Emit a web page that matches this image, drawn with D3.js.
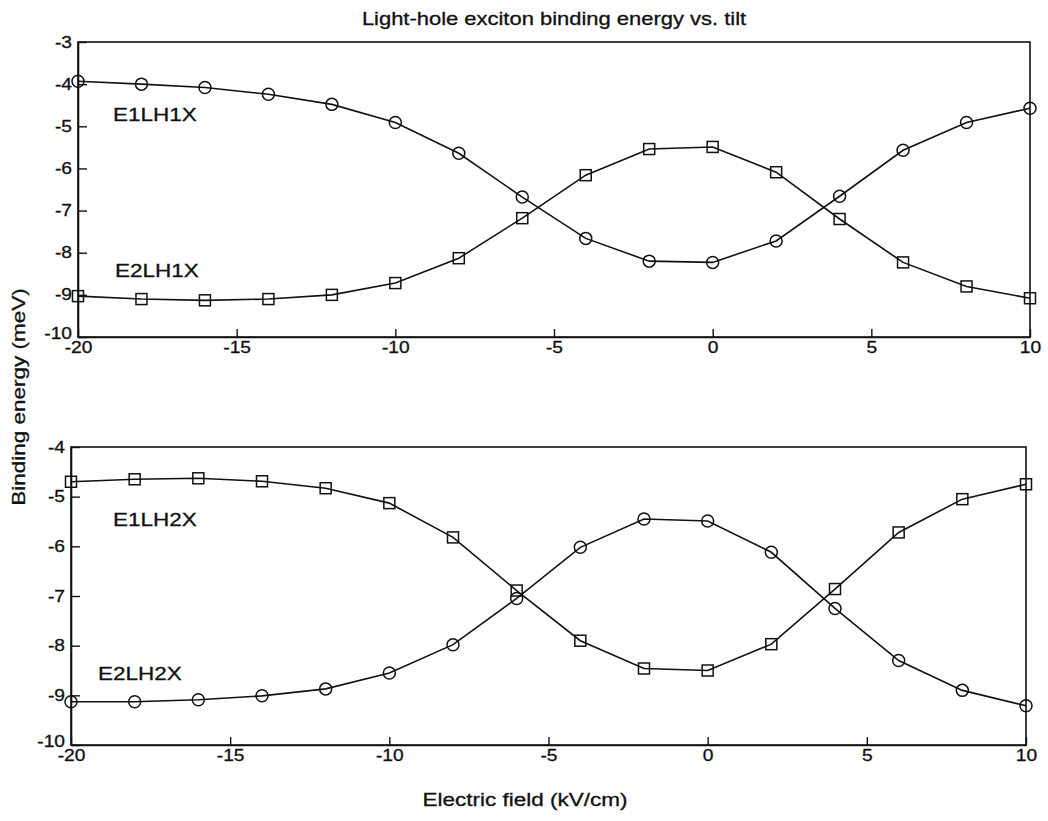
<!DOCTYPE html>
<html>
<head>
<meta charset="utf-8">
<script src="https://cdn.jsdelivr.net/npm/d3@7/dist/d3.min.js"></script>
<style>
  body { margin: 0; background: #fff; }
  text { font-family: "Liberation Sans", Arial, Helvetica, sans-serif; fill: #111; }
</style>
</head>
<body>
<div id="chart"></div>
<script>
// Electric field values (kV/cm), shared by every series
var field = [-20, -18, -16, -14, -12, -10, -8, -6, -4, -2, 0, 2, 4, 6, 8, 10];

// Top panel: light-hole 1
var e1lh1x = [-3.93, -4.00, -4.08, -4.24, -4.48, -4.91, -5.64, -6.68, -7.66, -8.20, -8.23, -7.72, -6.66, -5.57, -4.91, -4.57];
var e2lh1x = [-9.03, -9.10, -9.13, -9.10, -9.00, -8.72, -8.13, -7.18, -6.16, -5.54, -5.49, -6.09, -7.20, -8.23, -8.80, -9.08];

// Bottom panel: light-hole 2
var e1lh2x = [-4.70, -4.65, -4.63, -4.69, -4.83, -5.13, -5.82, -6.89, -7.90, -8.46, -8.50, -7.97, -6.86, -5.72, -5.05, -4.75];
var e2lh2x = [-9.13, -9.13, -9.09, -9.01, -8.87, -8.55, -7.98, -7.05, -6.02, -5.45, -5.49, -6.12, -7.25, -8.30, -8.90, -9.21];

// Tick values
var xTicks = [-20, -15, -10, -5, 0, 5, 10];
var yTicksTop = [-10, -9, -8, -7, -6, -5, -4, -3];
var yTicksBottom = [-10, -9, -8, -7, -6, -5, -4];

var width = 1048, height = 821;
var stretch = 1.2; // the scanned lettering is wide

var svg = d3.select("#chart")
  .append("svg")
  .attr("width", width)
  .attr("height", height);

var panels = [
  {box: {left: 78, right: 1030, top: 42, bottom: 337}, yDomain: [-10, -3], yTicks: yTicksTop,
   series: [{values: e1lh1x, marker: "circle"}, {values: e2lh1x, marker: "square"}],
   labels: [{text: "E1LH1X", x: 113, y: 121}, {text: "E2LH1X", x: 115, y: 277}]},
  {box: {left: 71, right: 1026, top: 447, bottom: 745}, yDomain: [-10, -4], yTicks: yTicksBottom,
   series: [{values: e1lh2x, marker: "square"}, {values: e2lh2x, marker: "circle"}],
   labels: [{text: "E1LH2X", x: 113, y: 526}, {text: "E2LH2X", x: 98, y: 680}]}
];

// plain hyphen minus, no decimals, like the original
var plain = function(d) { return String(d); };

function wideText(g, str, x, y, size, sx, anchor) {
  return g.append("text")
    .attr("transform", "translate(" + x + "," + y + ") scale(" + sx + ",1)")
    .attr("text-anchor", anchor || "start")
    .style("font-size", size + "px")
    .style("stroke", "#111")
    .style("stroke-width", 0.3)
    .text(str);
}

panels.forEach(function(p) {
  var b = p.box;
  var x = d3.scaleLinear().domain([-20, 10]).range([b.left, b.right]);
  var y = d3.scaleLinear().domain(p.yDomain).range([b.bottom, b.top]);
  var g = svg.append("g");

  // frame
  g.append("rect")
    .attr("x", b.left).attr("y", b.top)
    .attr("width", b.right - b.left).attr("height", b.bottom - b.top)
    .attr("fill", "none").attr("stroke", "#111").attr("stroke-width", 1.6);

  // x axis, ticks pointing inward
  var xa = g.append("g")
    .attr("transform", "translate(0," + b.bottom + ")")
    .call(d3.axisBottom(x).tickValues(xTicks).tickFormat(plain)
      .tickSizeInner(-8).tickSizeOuter(0).tickPadding(5));
  // y axis
  var ya = g.append("g")
    .attr("transform", "translate(" + b.left + ",0)")
    .call(d3.axisLeft(y).tickValues(p.yTicks).tickFormat(plain)
      .tickSizeInner(-9).tickSizeOuter(0).tickPadding(5));

  [xa, ya].forEach(function(a) {
    a.select(".domain").attr("stroke", "#111").attr("stroke-width", 1.6);
    a.selectAll(".tick line").attr("stroke", "#111").attr("stroke-width", 1.4);
    a.attr("font-family", null).attr("font-size", null);
    a.selectAll(".tick text")
      .style("font-size", "16px")
      .style("stroke", "#111").style("stroke-width", 0.3)
      .attr("transform", "scale(" + stretch + ",1)");
  });
  // lowest y label sits a little above the corner, clear of the x label
  ya.selectAll(".tick text").filter(function(d) { return d == -10; }).attr("dy", "0.1em");

  // series
  var line = d3.line()
    .x(function(d, i) { return x(field[i]); })
    .y(function(d) { return y(d); });

  p.series.forEach(function(s) {
    g.append("path")
      .datum(s.values)
      .attr("d", line)
      .attr("fill", "none")
      .attr("stroke", "#111")
      .attr("stroke-width", 1.6);

    var m = g.append("g").selectAll(".marker")
      .data(s.values)
      .enter();
    if (s.marker == "circle") {
      m.append("circle")
        .attr("cx", function(d, i) { return x(field[i]); })
        .attr("cy", function(d) { return y(d); })
        .attr("r", 6)
        .attr("fill", "none")
        .attr("stroke", "#111")
        .attr("stroke-width", 1.5);
    } else {
      m.append("rect")
        .attr("x", function(d, i) { return x(field[i]) - 5.5; })
        .attr("y", function(d) { return y(d) - 5.5; })
        .attr("width", 11).attr("height", 11)
        .attr("fill", "none")
        .attr("stroke", "#111")
        .attr("stroke-width", 1.5);
    }
  });

  // curve names
  p.labels.forEach(function(l) {
    wideText(g, l.text, l.x, l.y, 18, 1.25);
  });
});

// Title and axis titles
wideText(svg, "Light-hole exciton binding energy vs. tilt", 554, 25, 18, 1.22, "middle");
wideText(svg, "Electric field (kV/cm)", 525, 806, 18, 1.25, "middle");
svg.append("text")
  .attr("transform", "translate(25,397) rotate(-90) scale(1.25,1)")
  .attr("text-anchor", "middle")
  .style("font-size", "18px")
  .style("stroke", "#111")
  .style("stroke-width", 0.3)
  .text("Binding energy (meV)");
</script>
</body>
</html>
